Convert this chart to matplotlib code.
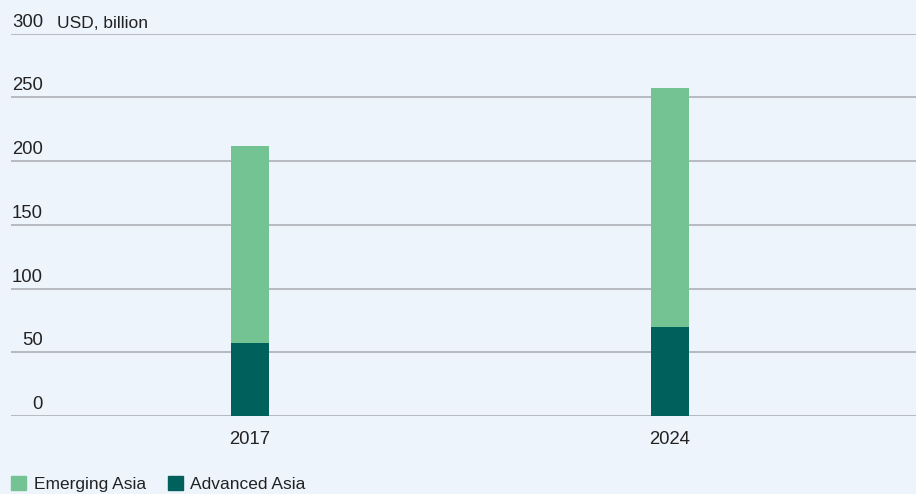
import matplotlib.pyplot as plt
from matplotlib.patches import Patch
import numpy as np

years = ["2017", "2024"]
advanced_asia = [57.5, 70.0]
emerging_asia = [154.5, 187.5]
y_ticks = [0, 50, 100, 150, 200, 250, 300]

BG = "#EEF4FC"
GREEN = "#74C493"
TEAL = "#00605C"
GRID = "#B3B6BC"
TEXT = "#222222"

plt.rcParams["font.family"] = ["Liberation Sans", "DejaVu Sans"]

fig = plt.figure(figsize=(9.16, 4.94), dpi=100, facecolor=BG)
ax = fig.add_axes([11 / 916, 78 / 494, 905 / 916, 382.3 / 494])
ax.set_facecolor(BG)

x = np.arange(len(years))
ax.bar(x, advanced_asia, width=0.09, color=TEAL, zorder=3)
ax.bar(x, emerging_asia, width=0.09, bottom=advanced_asia, color=GREEN, zorder=3)

ax.set_xlim(-0.569, 1.586)
ax.set_ylim(0, 300)
ax.set_yticks(y_ticks)
ax.yaxis.grid(True, color=GRID, linewidth=1.3, zorder=0)
ax.set_yticklabels([])
ax.tick_params(axis="y", length=0)
ax.set_xticks(x)
ax.set_xticklabels(years, fontsize=13.3, color=TEXT)
ax.tick_params(axis="x", length=0, pad=11)
for s in ax.spines.values():
    s.set_visible(False)

# tick values sit just above their grid line, right-aligned in a narrow column
for v in y_ticks:
    ax.annotate(str(v), xy=(0, v), xycoords=("axes fraction", "data"),
                xytext=(32, 3), textcoords="offset pixels",
                ha="right", va="bottom", fontsize=13.3, color=TEXT)
ax.annotate("USD, billion", xy=(0, 300), xycoords=("axes fraction", "data"),
            xytext=(46, 3), textcoords="offset pixels",
            ha="left", va="bottom", fontsize=12.5, color=TEXT)

handles = [Patch(color=GREEN, label="Emerging Asia"),
           Patch(color=TEAL, label="Advanced Asia")]
fig.legend(handles=handles, loc="lower left", bbox_to_anchor=(11 / 916, 2 / 494),
           ncol=2, frameon=False, fontsize=12.5, handlelength=0.86,
           handleheight=0.86, handletextpad=0.45, columnspacing=1.26,
           borderpad=0, borderaxespad=0, labelcolor=TEXT)

fig.savefig("out.png", dpi=100, facecolor=BG)
